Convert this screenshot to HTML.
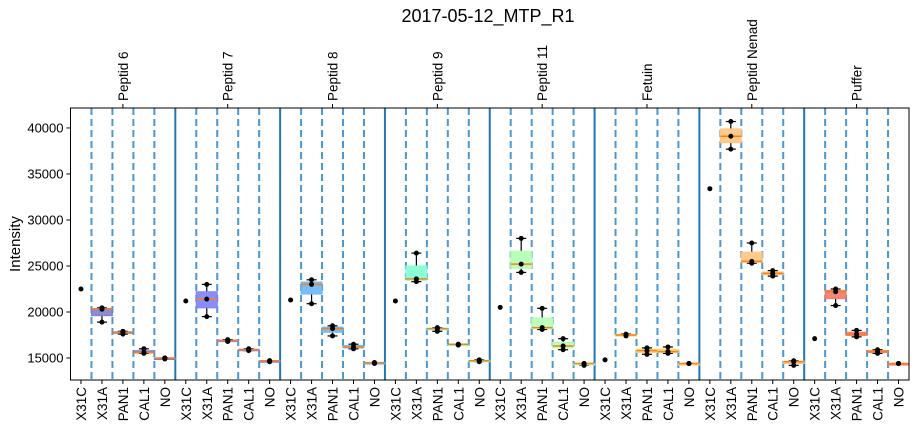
<!DOCTYPE html>
<html><head><meta charset="utf-8"><style>
body{margin:0;background:#fff;}
svg{display:block;font-family:"Liberation Sans","DejaVu Sans",sans-serif;}
</style></head><body>
<svg id="chart" width="917" height="426" viewBox="0 0 917 426">
<text x="488" y="22" font-size="18" text-anchor="middle">2017-05-12_MTP_R1</text>
<text transform="translate(20,244) rotate(-90)" font-size="15" text-anchor="middle">Intensity</text>
<g id="grid"></g><g id="marks"></g><g id="axes"></g>
</svg>
<script>
const groups = ["Peptid 6","Peptid 7","Peptid 8","Peptid 9","Peptid 11","Fetuin","Peptid Nenad","Puffer"];
const samples = ["X31C","X31A","PAN1","CAL1","NO"];
const groupColors = ["#7f7fcf","#8080ff","#6cb6f5","#7fffd4","#b3ffb3","#ffd070","#ffc580","#f27a70"];
const yTicks = [15000,20000,25000,30000,35000,40000];
const values = [
 [[22500],[18900,20300,20450],[17600,17800,17900],[15500,15600,16000],[14900,15000,15000]],
 [[21200],[19500,21400,23000],[16800,16900,17000],[15800,15900,16000],[14600,14700,14700]],
 [[21300],[20900,23000,23500],[17400,18200,18500],[16000,16200,16500],[14400,14500,14500]],
 [[21200],[23300,23600,26400],[17900,18200,18300],[16400,16500,16500],[14600,14700,14800]],
 [[20500],[24300,25200,28000],[18100,18300,20400],[15900,16300,17100],[14200,14400,14400]],
 [[14800],[17400,17500,17600],[15400,15800,16100],[15500,15700,16200],[14400,14400,14400]],
 [[33400],[37700,39100,40700],[25300,25500,27500],[23900,24200,24500],[14200,14600,14700]],
 [[17100],[20700,22200,22500],[17300,17600,18000],[15500,15700,15900],[14400,14400,14400]]
];
const X0=70.5,X1=909,Y0=108,Y1=380,VMIN=12610,VMAX=42170;
const nCat=groups.length*samples.length, cw=(X1-X0)/nCat;
const xc=i=>X0+cw*(i+0.5);
const y=v=>Y1-(v-VMIN)/(VMAX-VMIN)*(Y1-Y0);
const NS="http://www.w3.org/2000/svg";
function mk(t,a,p){const e=document.createElementNS(NS,t);for(const k in a)e.setAttribute(k,a[k]);p.appendChild(e);return e;}
const grid=document.getElementById('grid'),marks=document.getElementById('marks'),axes=document.getElementById('axes');
function pct(s,p){const h=(s.length-1)*p,l=Math.floor(h),u=Math.ceil(h);return s[l]+(s[u]-s[l])*(h-l);}
for(let b=1;b<nCat;b++){
  const x=X0+cw*b, solid=b%samples.length===0;
  const ln=mk('line',{x1:x,x2:x,y1:Y0,y2:Y1,stroke:solid?'#1f77b4':'#4a98cf','stroke-width':2,'stroke-dasharray':solid?'':'7,4'},grid);
  
  
}
groups.forEach((g,gi)=>{
  samples.forEach((s,si)=>{
    const i=gi*samples.length+si, v=values[gi][si].slice().sort((a,b)=>a-b), x=xc(i), hw=cw/2;
    const grp=mk('g',{},marks);
    
    
    if(v.length>1){
      const q1=pct(v,0.25),q3=pct(v,0.75),med=pct(v,0.5);
      mk('line',{x1:x,x2:x,y1:y(v[v.length-1]),y2:y(q3),stroke:'#000','stroke-width':1.2},grp);
      mk('line',{x1:x,x2:x,y1:y(v[0]),y2:y(q1),stroke:'#000','stroke-width':1.2},grp);
      mk('line',{x1:x-5,x2:x+5,y1:y(v[v.length-1]),y2:y(v[v.length-1]),stroke:'#000','stroke-width':1.2},grp);
      mk('line',{x1:x-5,x2:x+5,y1:y(v[0]),y2:y(v[0]),stroke:'#000','stroke-width':1.2},grp);
      const h=Math.max(y(q1)-y(q3),1.5);
      mk('rect',{x:x-hw,y:y(q3),width:cw,height:h,fill:groupColors[gi],stroke:groupColors[gi],'stroke-width':1,'fill-opacity':0.9},grp);
      mk('line',{x1:x-hw,x2:x+hw,y1:y(med),y2:y(med),stroke:'#ff7f0e','stroke-width':1.5},grp);
    }
    v.forEach(val=>{mk('circle',{cx:x,cy:y(val),r:2.5,fill:'#000'},grp);});
  });
});
mk('rect',{x:X0,y:Y0,width:X1-X0,height:Y1-Y0,fill:'none',stroke:'#000','stroke-width':1},axes);
yTicks.forEach(t=>{
  const yy=y(t);
  mk('line',{x1:X0-4,x2:X0,y1:yy,y2:yy,stroke:'#000'},axes);
  const tx=mk('text',{x:X0-7,y:yy+4.5,'font-size':13,'text-anchor':'end'},axes);tx.textContent=t;
  
  
});
for(let i=0;i<nCat;i++){
  const x=xc(i);
  mk('line',{x1:x,x2:x,y1:Y1,y2:Y1+4,stroke:'#000'},axes);
  const tx=mk('text',{transform:`translate(${x+5},${Y1+7}) rotate(-90)`,'font-size':13.5,'text-anchor':'end'},axes);
  tx.textContent=samples[i%samples.length];
  
  
}
groups.forEach((g,gi)=>{
  const x=X0+cw*samples.length*(gi+0.5);
  mk('line',{x1:x,x2:x,y1:Y0-4,y2:Y0,stroke:'#000'},axes);
  const tx=mk('text',{transform:`translate(${x+5},${Y0-7}) rotate(-90)`,'font-size':13.5,'text-anchor':'start'},axes);
  tx.textContent=g;
  
  
});
</script>
</body></html>
